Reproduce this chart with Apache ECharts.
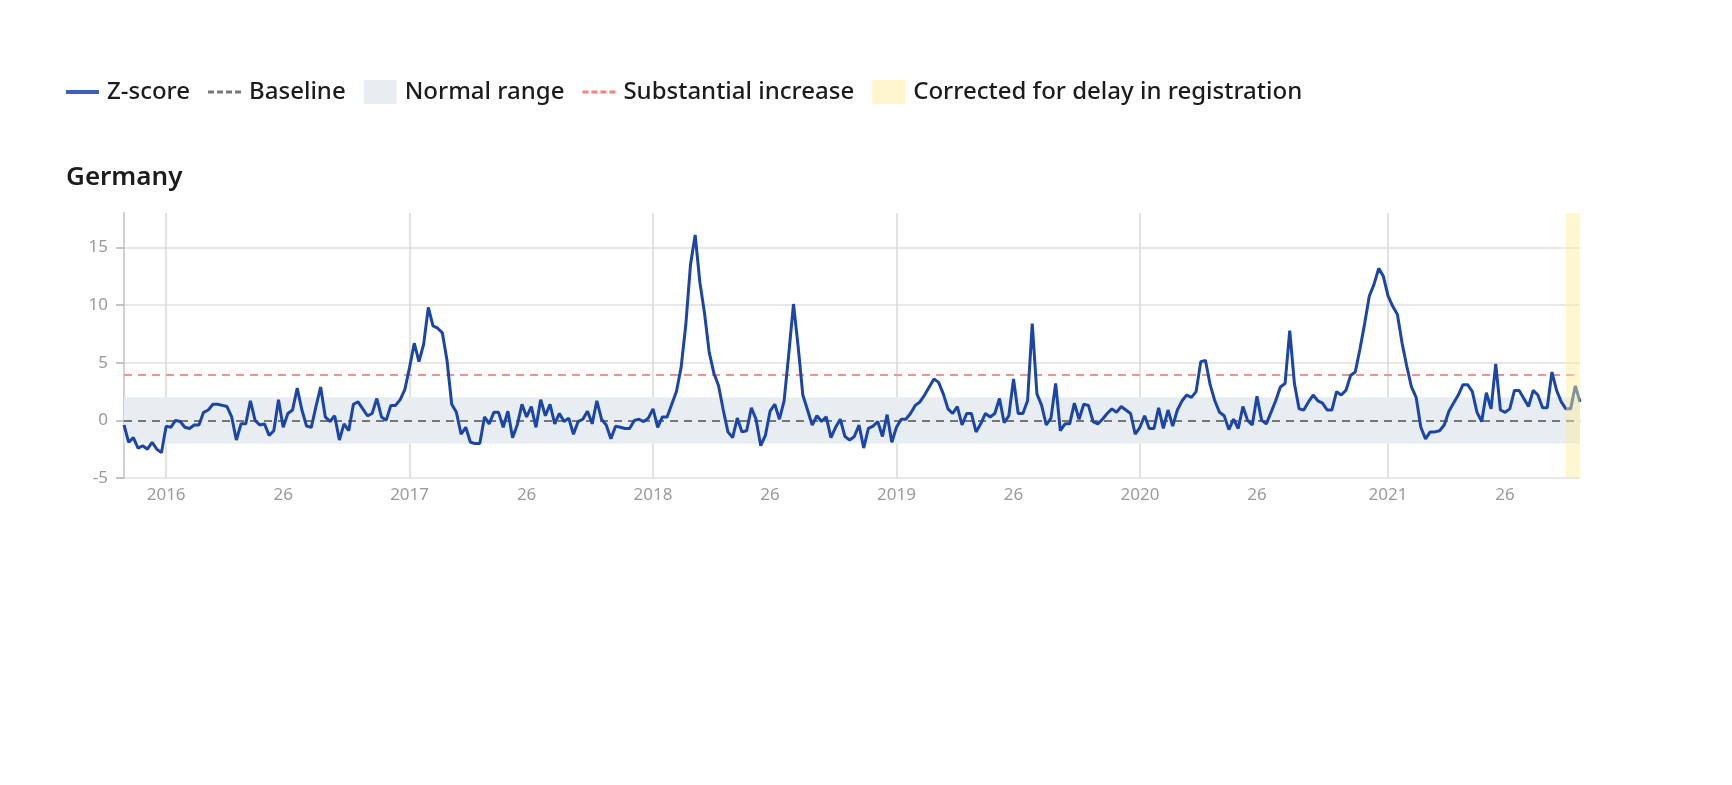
<!DOCTYPE html>
<html>
<head>
<meta charset="utf-8">
<title>Germany Z-score</title>
<script src="https://cdn.jsdelivr.net/npm/echarts@6/dist/echarts.min.js"></script>
<style>
  html, body { margin: 0; padding: 0; background: #fff; }
  #chart { width: 1732px; height: 785px; }
</style>
</head>
<body>
<div id="chart"></div>
<script>
// ISO weeks shown: 2015-W45 .. 2021-W42
const yearWeeks = [[2015, 45, 53], [2016, 1, 52], [2017, 1, 52], [2018, 1, 52], [2019, 1, 52], [2020, 1, 53], [2021, 1, 42]];
const categories = [];
yearWeeks.forEach(function (yw) {
  for (let w = yw[1]; w <= yw[2]; w++) {
    categories.push(yw[0] + '-W' + (w < 10 ? '0' + w : '' + w));
  }
});

const zScore = [
  -0.4, -1.9, -1.5, -2.4, -2.2, -2.5, -1.9, -2.5, -2.8, -0.5,
  -0.6, 0.0, -0.1, -0.6, -0.7, -0.4, -0.4, 0.7, 0.9, 1.4,
  1.4, 1.3, 1.2, 0.3, -1.7, -0.3, -0.3, 1.7, 0.0, -0.4,
  -0.3, -1.3, -0.9, 1.8, -0.6, 0.6, 0.9, 2.8, 0.9, -0.5,
  -0.6, 1.2, 2.9, 0.3, -0.1, 0.4, -1.7, -0.3, -0.9, 1.4,
  1.6, 1.0, 0.4, 0.6, 1.9, 0.3, 0.0, 1.3, 1.3, 1.8,
  2.7, 4.6, 6.7, 5.1, 6.6, 9.8, 8.2, 8.0, 7.6, 5.2,
  1.4, 0.7, -1.2, -0.6, -1.9, -2.0, -2.0, 0.3, -0.3, 0.7,
  0.7, -0.6, 0.8, -1.5, -0.4, 1.4, 0.3, 1.2, -0.6, 1.8,
  0.4, 1.4, -0.3, 0.6, -0.1, 0.2, -1.2, -0.1, 0.1, 0.8,
  -0.3, 1.7, 0.1, -0.4, -1.6, -0.5, -0.6, -0.7, -0.7, 0.0,
  0.1, -0.1, 0.2, 1.0, -0.6, 0.3, 0.3, 1.4, 2.5, 4.6,
  8.3, 13.5, 16.1, 12.0, 9.3, 5.9, 4.1, 3.0, 0.9, -1.0,
  -1.5, 0.2, -1.0, -0.9, 1.1, 0.1, -2.2, -1.3, 0.8, 1.4,
  0.1, 1.7, 5.8, 10.1, 6.4, 2.2, 0.9, -0.4, 0.4, -0.1,
  0.3, -1.5, -0.6, 0.1, -1.4, -1.7, -1.4, -0.4, -2.4, -0.7,
  -0.5, -0.1, -1.4, 0.5, -1.9, -0.6, 0.1, 0.1, 0.6, 1.3,
  1.6, 2.2, 2.9, 3.6, 3.3, 2.3, 1.0, 0.6, 1.2, -0.4,
  0.6, 0.6, -1.0, -0.3, 0.6, 0.3, 0.6, 1.9, -0.2, 0.4,
  3.6, 0.6, 0.6, 1.7, 8.4, 2.3, 1.3, -0.4, 0.2, 3.2,
  -0.9, -0.3, -0.3, 1.5, 0.1, 1.4, 1.3, -0.1, -0.3, 0.1,
  0.6, 1.0, 0.7, 1.2, 0.9, 0.6, -1.2, -0.6, 0.4, -0.7,
  -0.7, 1.1, -0.7, 0.9, -0.5, 0.9, 1.7, 2.2, 2.0, 2.5,
  5.1, 5.2, 3.1, 1.7, 0.7, 0.4, -0.8, 0.1, -0.7, 1.2,
  0.0, -0.4, 2.1, 0.0, -0.3, 0.7, 1.7, 2.9, 3.2, 7.8,
  3.2, 1.0, 0.9, 1.6, 2.2, 1.7, 1.5, 0.9, 0.9, 2.5,
  2.2, 2.6, 3.9, 4.2, 6.2, 8.4, 10.8, 11.8, 13.2, 12.5,
  10.8, 9.9, 9.2, 6.7, 4.7, 2.9, 2.0, -0.6, -1.6, -1.0,
  -1.0, -0.9, -0.4, 0.8, 1.5, 2.2, 3.1, 3.1, 2.5, 0.7,
  -0.1, 2.4, 1.0, 4.9, 0.9, 0.7, 1.0, 2.6, 2.6, 1.9,
  1.2, 2.6, 2.2, 1.1, 1.1, 4.2, 2.6, 1.6, 1.0, 1.0,
  3.0, 1.6
];

const baselineValue = [0];
const normalRange = [-2, 2];
const substantialValue = [4];
const correctedWeeks = ['2021-W39', '2021-W42'];
const yTicks = [-5, 0, 5, 10, 15];

function weekOf(v) { return parseInt(String(v).split('-W')[1], 10); }
function yearOf(v) { return String(v).split('-W')[0]; }

const dashPath = 'path://M0,0H6V3H0Z M9,0H15V3H9Z M18,0H24V3H18Z M27,0H33V3H27Z';
const FONT = 'Noto Sans';

const chart = echarts.init(document.getElementById('chart'), null, { renderer: 'canvas' });
chart.setOption({
  animation: false,
  backgroundColor: '#ffffff',
  textStyle: { fontFamily: FONT },
  title: {
    text: 'Germany',
    left: 66,
    top: 165,
    padding: 0,
    textStyle: { fontFamily: FONT, fontSize: 26, fontWeight: 600, color: '#1c1c1c' }
  },
  legend: {
    left: 66,
    top: 80,
    padding: 0,
    itemWidth: 33,
    itemHeight: 24,
    itemGap: 18,
    symbolKeepAspect: true,
    selectedMode: false,
    textStyle: { fontFamily: FONT, fontSize: 24, fontWeight: 500, color: '#1c1c1c', padding: [0, 0, 0, 3] },
    data: [
      { name: 'Z-score', icon: 'path://M0,0H33V4H0Z', itemStyle: { color: '#3f5fbf' } },
      { name: 'Baseline', icon: dashPath, itemStyle: { color: '#777777' } },
      { name: 'Normal range', icon: 'rect', itemStyle: { color: '#e8edf2' } },
      { name: 'Substantial increase', icon: dashPath, itemStyle: { color: '#ff7f7f' } },
      { name: 'Corrected for delay in registration', icon: 'rect', itemStyle: { color: '#fff6cf' } }
    ]
  },
  grid: { left: 124, right: 152, top: 213, bottom: 307, containLabel: false },
  xAxis: {
    type: 'category',
    data: categories,
    boundaryGap: false,
    axisLine: { show: true, lineStyle: { color: '#d6d6d6', width: 2 } },
    axisTick: {
      show: true,
      length: 7,
      lineStyle: { color: '#b0b0b0', width: 1.5 },
      interval: function (i, v) { const w = weekOf(v); return w === 1 || w === 26; }
    },
    axisLabel: {
      color: '#9a9a9a',
      fontSize: 17,
      fontFamily: FONT,
      margin: 9,
      interval: function (i, v) { const w = weekOf(v); return w === 1 || w === 26; },
      formatter: function (v) { const w = weekOf(v); return w === 1 ? yearOf(v) : String(w); }
    },
    splitLine: {
      show: true,
      lineStyle: { color: '#d8d8d8', width: 1.5 },
      interval: function (i, v) { return weekOf(v) === 1; }
    }
  },
  yAxis: {
    type: 'value',
    min: -5,
    max: 18,
    interval: 5,
    axisLine: { show: true, lineStyle: { color: '#d0d0d0', width: 2 } },
    axisTick: { show: true, length: 8, lineStyle: { color: '#b0b0b0', width: 1.5 }, customValues: yTicks },
    axisLabel: { color: '#9a9a9a', fontSize: 17, fontFamily: FONT, margin: 16, customValues: yTicks },
    splitLine: { show: true, lineStyle: { color: '#e0e0e0', width: 1.5 } }
  },
  series: [
    {
      name: 'Normal range',
      type: 'line',
      data: [],
      z: 1,
      markArea: {
        silent: true,
        z: 1,
        itemStyle: { color: '#e8edf2' },
        data: [[{ yAxis: normalRange[0] }, { yAxis: normalRange[1] }]]
      }
    },
    {
      name: 'Baseline',
      type: 'line',
      data: [],
      z: 2,
      markLine: {
        silent: true,
        symbol: 'none',
        z: 2,
        label: { show: false },
        lineStyle: { color: '#777777', type: [8, 6], width: 2 },
        data: [{ yAxis: baselineValue[0] }]
      }
    },
    {
      name: 'Substantial increase',
      type: 'line',
      data: [],
      z: 2,
      markLine: {
        silent: true,
        symbol: 'none',
        z: 2,
        label: { show: false },
        lineStyle: { color: '#ff8f8f', type: [8, 6], width: 2 },
        data: [{ yAxis: substantialValue[0] }]
      }
    },
    {
      name: 'Z-score',
      type: 'line',
      data: zScore,
      z: 5,
      symbol: 'none',
      showSymbol: false,
      lineStyle: { color: '#1b45a6', width: 3 },
      itemStyle: { color: '#1b45a6' }
    },
    {
      name: 'Corrected for delay in registration',
      type: 'line',
      data: [],
      z: 10,
      markArea: {
        silent: true,
        z: 10,
        itemStyle: { color: 'rgba(255, 238, 150, 0.45)' },
        data: [[{ xAxis: correctedWeeks[0] }, { xAxis: correctedWeeks[1] }]]
      }
    }
  ]
});
</script>
</body>
</html>
